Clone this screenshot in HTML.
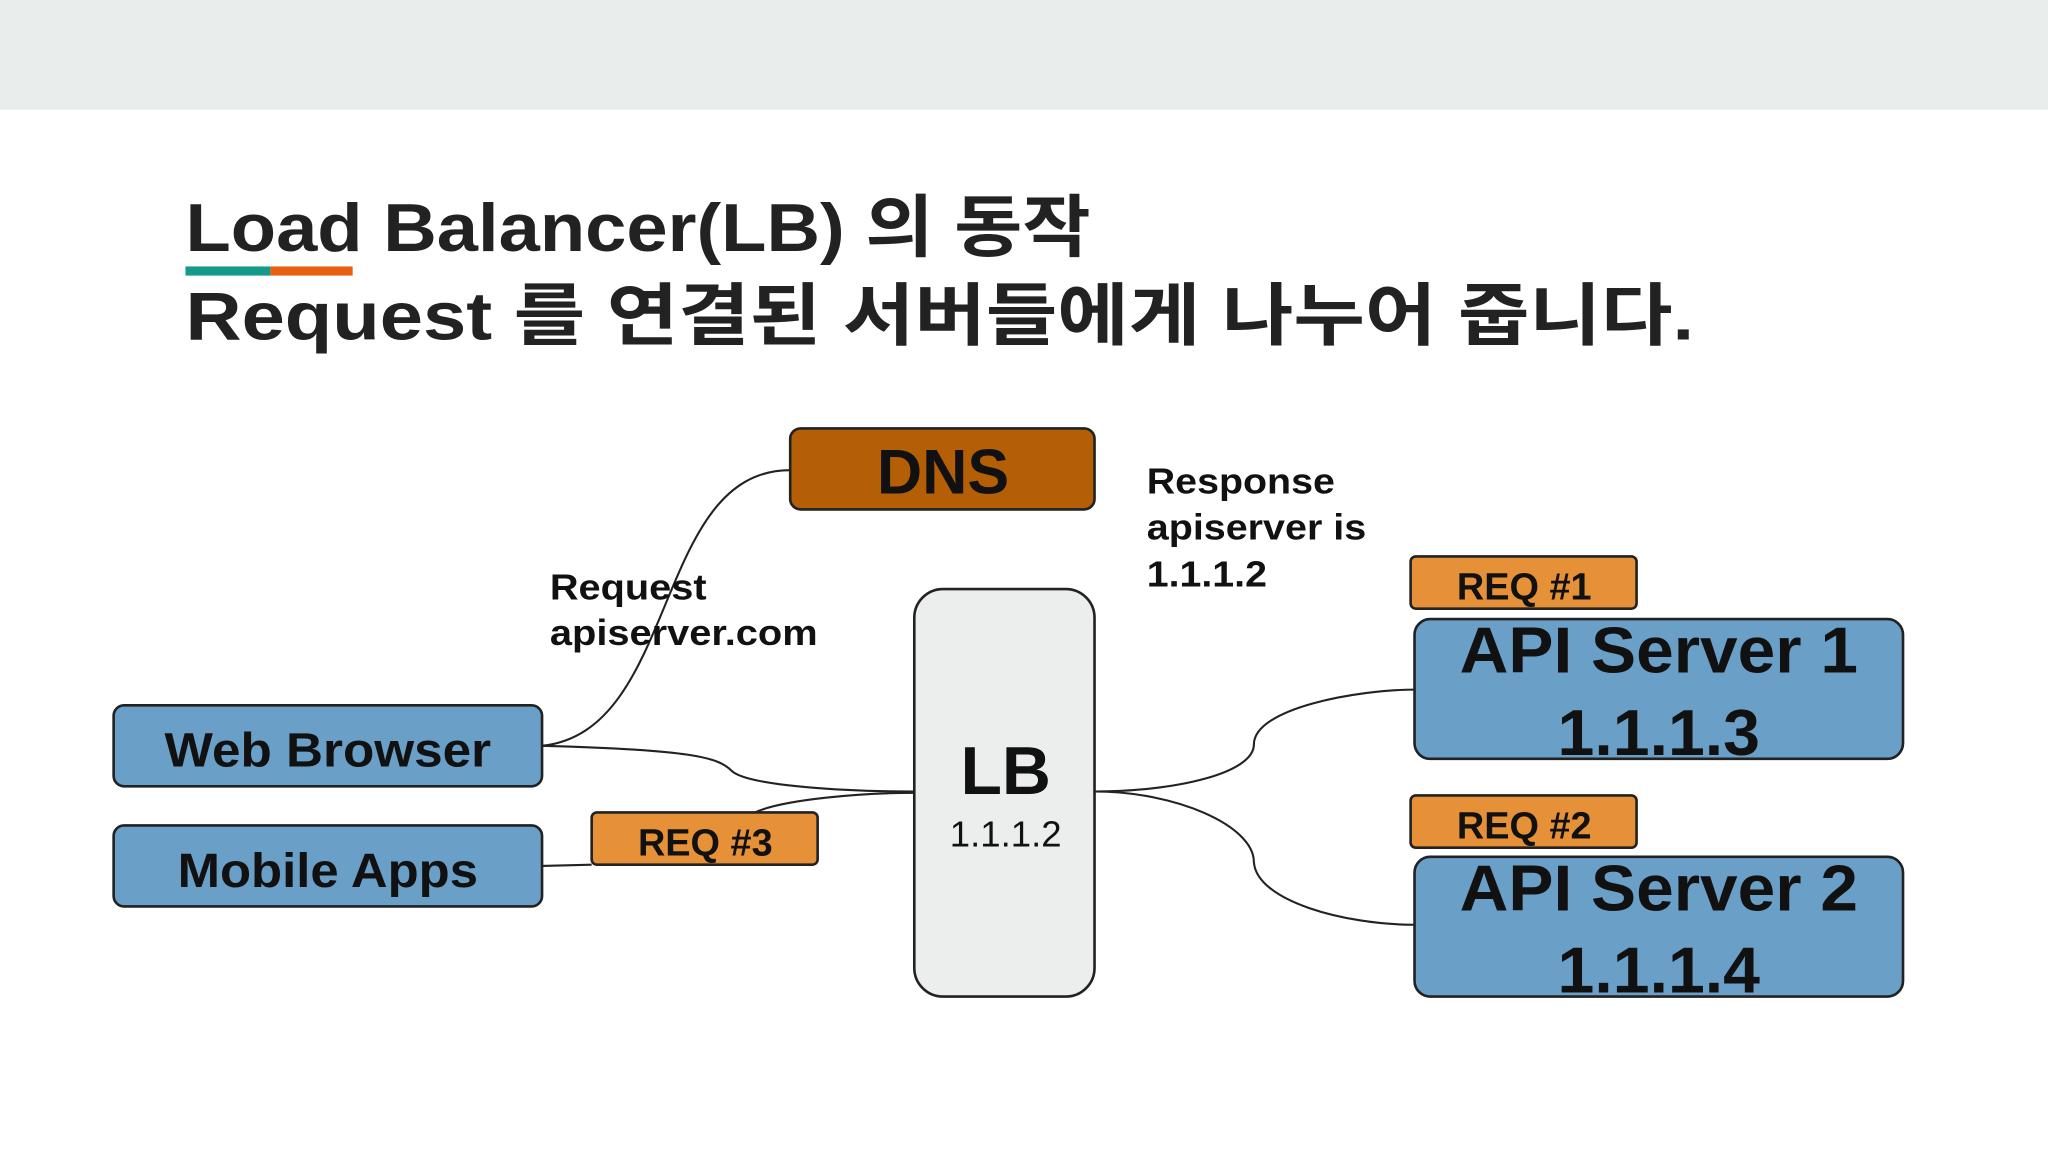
<!DOCTYPE html>
<html><head><meta charset="utf-8"><style>
html,body{margin:0;padding:0;background:#fff;}
svg{display:block;}
text{font-family:"Liberation Sans","Noto Sans CJK KR",sans-serif;}
</style></head><body>
<svg width="2048" height="1152" viewBox="0 0 1568 882" xmlns="http://www.w3.org/2000/svg">
<rect x="0" y="0" width="1568" height="84" fill="#e9edeb"/>
<text x="142" y="192" font-size="52" font-weight="bold" fill="#222" textLength="693" lengthAdjust="spacingAndGlyphs">Load Balancer(LB) 의 동작</text>
<rect x="142" y="204" width="65" height="7" fill="#159a8a"/>
<rect x="207" y="204" width="63" height="7" fill="#e5600f"/>
<text x="142" y="260" font-size="52" font-weight="bold" fill="#222" textLength="1155" lengthAdjust="spacingAndGlyphs">Request 를 연결된 서버들에게 나누어 줍니다.</text>
<g fill="none" stroke="#222" stroke-width="1.6">
<path d="M415 571 C 520 560, 500 360, 605 360"/>
<path d="M415 571 C 530 574, 550 580, 560 590 C 572 602, 650 606, 700 606"/>
<path d="M415 663 L 453 662"/>
<path d="M578 622 C 600 612, 660 607, 700 607"/>
<path d="M838 606 C 900 606, 960 592, 960 570 C 960 542, 1040 528, 1083 528"/>
<path d="M838 606 C 900 606, 960 632, 960 660 C 962 690, 1030 708, 1083 708"/>
</g>
<g stroke="#222" stroke-width="2">
<rect x="605" y="328" width="233" height="62" rx="8" fill="#b45f06"/>
<rect x="700" y="451" width="138" height="312" rx="22" fill="#eceeee"/>
<rect x="87" y="540" width="328" height="62" rx="8" fill="#6a9fc8"/>
<rect x="87" y="632" width="328" height="62" rx="8" fill="#6a9fc8"/>
<rect x="453" y="622" width="173" height="40" rx="4" fill="#e69138"/>
<rect x="1080" y="426" width="173" height="40" rx="4" fill="#e69138"/>
<rect x="1080" y="609" width="173" height="40" rx="4" fill="#e69138"/>
<rect x="1083" y="474" width="374" height="107" rx="12" fill="#6a9fc8"/>
<rect x="1083" y="656" width="374" height="107" rx="12" fill="#6a9fc8"/>
</g>
<g font-weight="bold" fill="#111" text-anchor="middle">
<text x="722" y="378" font-size="48">DNS</text>
<text x="770" y="608" font-size="52">LB</text>
<text x="770" y="648" font-size="28" font-weight="normal">1.1.1.2</text>
<text x="251" y="587" font-size="37" textLength="250" lengthAdjust="spacingAndGlyphs">Web Browser</text>
<text x="251" y="679" font-size="37" textLength="230" lengthAdjust="spacingAndGlyphs">Mobile Apps</text>
<text x="540" y="655" font-size="29">REQ #3</text>
<text x="1167" y="459" font-size="29">REQ #1</text>
<text x="1167" y="642" font-size="29">REQ #2</text>
<text x="1270" y="515" font-size="50" textLength="305" lengthAdjust="spacingAndGlyphs">API Server 1</text>
<text x="1270" y="578" font-size="50" textLength="155" lengthAdjust="spacingAndGlyphs">1.1.1.3</text>
<text x="1270" y="697" font-size="50" textLength="305" lengthAdjust="spacingAndGlyphs">API Server 2</text>
<text x="1270" y="760" font-size="50" textLength="155" lengthAdjust="spacingAndGlyphs">1.1.1.4</text>
</g>
<g font-size="28" font-weight="bold" fill="#111">
<text x="878" y="378" textLength="144" lengthAdjust="spacingAndGlyphs">Response</text>
<text x="878" y="413" textLength="168" lengthAdjust="spacingAndGlyphs">apiserver is</text>
<text x="878" y="449" textLength="92" lengthAdjust="spacingAndGlyphs">1.1.1.2</text>
<text x="421" y="459" textLength="120" lengthAdjust="spacingAndGlyphs">Request</text>
<text x="421" y="494" textLength="205" lengthAdjust="spacingAndGlyphs">apiserver.com</text>
</g>
</svg>
</body></html>
